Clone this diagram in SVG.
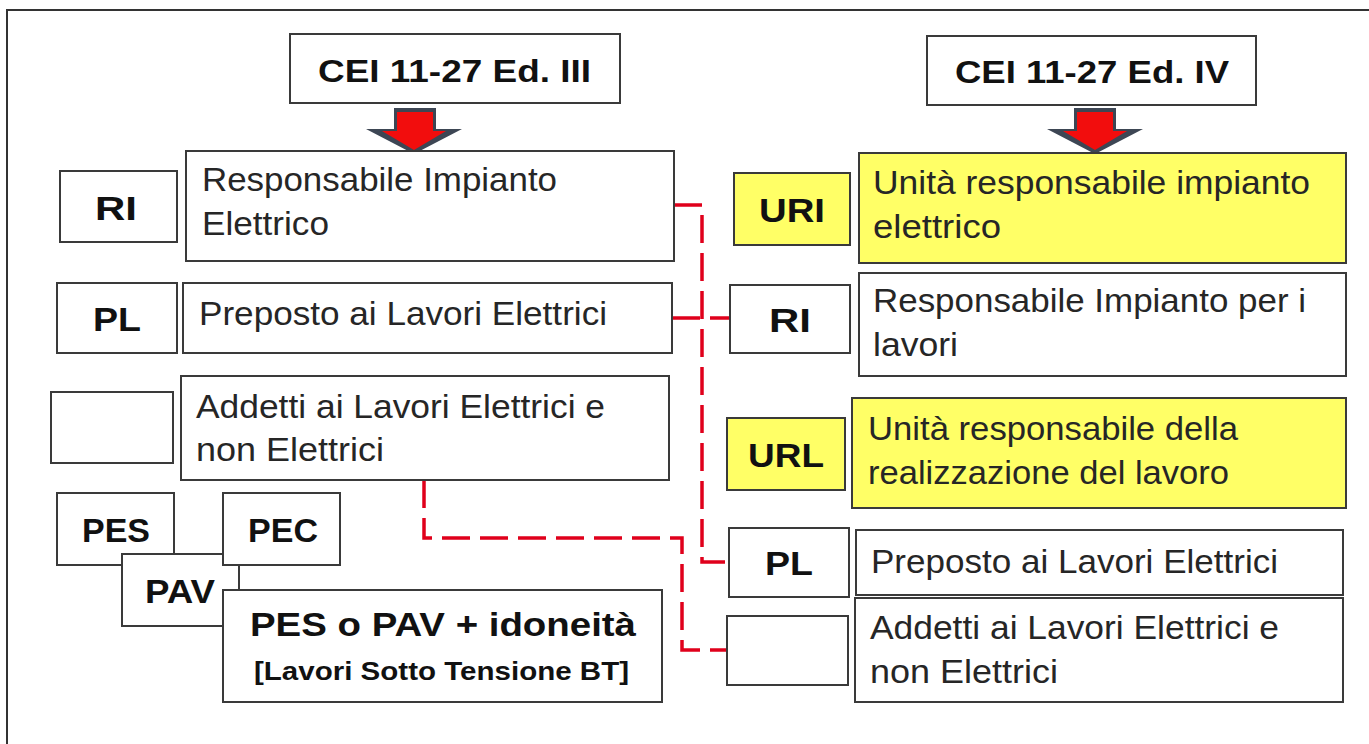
<svg xmlns="http://www.w3.org/2000/svg" width="1369" height="744" viewBox="0 0 1369 744">
<style>
.box{fill:#ffffff;stroke:#3a3a3a;stroke-width:2}
.ybox{fill:#ffff66;stroke:#3a3a3a;stroke-width:2}
.t{font-family:"Liberation Sans",Arial,sans-serif;font-size:33px;fill:#262626}
.lbl{font-family:"Liberation Sans",Arial,sans-serif;font-size:33px;font-weight:bold;fill:#111;text-anchor:middle}
.title{font-family:"Liberation Sans",Arial,sans-serif;font-size:32px;font-weight:bold;fill:#111}
.con{fill:none;stroke:#e0001b;stroke-width:3.5;stroke-dasharray:28 10}
.ad{fill:#3d4654}
.ar{fill:#f20d0d}
</style>
<rect x="0" y="0" width="1369" height="744" fill="#ffffff"/>
<path d="M7,744 V10 H1369" fill="none" stroke="#333" stroke-width="2"/>

<g id="title-ed3">
<rect class="box" x="290" y="34" width="330" height="69"/>
<text class="title" x="318" y="82" textLength="273" lengthAdjust="spacingAndGlyphs">CEI 11-27  Ed. III</text>
</g>
<g id="arrow-ed3">
<polygon class="ad" points="394,108 436,108 436,129 462,129 414,154 366,129 394,129"/>
<polygon class="ar" points="397,112 433,112 433,131 446,131 414,150 382,131 397,131"/>
</g>

<g id="title-ed4">
<rect class="box" x="927" y="36" width="329" height="69"/>
<text class="title" x="955" y="83" textLength="274" lengthAdjust="spacingAndGlyphs">CEI 11-27  Ed. IV</text>
</g>
<g id="arrow-ed4">
<polygon class="ad" points="1074,108 1116,108 1116,129 1143,129 1095,154 1047,129 1074,129"/>
<polygon class="ar" points="1077,112 1113,112 1113,131 1127,131 1095,150 1063,131 1077,131"/>
</g>

<g id="connectors">
<path class="con" d="M674,205 H702 V562 H730"/>
<path class="con" d="M424,480 V538 H682 V650 H728"/>
<path class="con" d="M672,318 H730"/>
</g>

<g id="l-ri">
<rect class="box" x="60" y="171" width="117" height="71"/>
<text class="lbl" x="116" y="220" textLength="42" lengthAdjust="spacingAndGlyphs">RI</text>
</g>
<g id="l-ri-desc">
<rect class="box" x="186" y="151" width="488" height="110"/>
<text class="t" x="202" y="191" textLength="355" lengthAdjust="spacingAndGlyphs">Responsabile Impianto</text>
<text class="t" x="202" y="235" textLength="127" lengthAdjust="spacingAndGlyphs">Elettrico</text>
</g>
<g id="l-pl">
<rect class="box" x="57" y="283" width="120" height="70"/>
<text class="lbl" x="117" y="331" textLength="48" lengthAdjust="spacingAndGlyphs">PL</text>
</g>
<g id="l-pl-desc">
<rect class="box" x="183" y="283" width="489" height="70"/>
<text class="t" x="199" y="325" textLength="408" lengthAdjust="spacingAndGlyphs">Preposto ai Lavori Elettrici</text>
</g>
<g id="l-empty">
<rect class="box" x="51" y="392" width="122" height="71"/>
</g>
<g id="l-addetti">
<rect class="box" x="181" y="376" width="488" height="104"/>
<text class="t" x="196" y="418" textLength="409" lengthAdjust="spacingAndGlyphs">Addetti ai Lavori Elettrici e</text>
<text class="t" x="196" y="461" textLength="188" lengthAdjust="spacingAndGlyphs">non Elettrici</text>
</g>
<g id="l-pes">
<rect class="box" x="57" y="493" width="117" height="72"/>
<text class="lbl" x="116" y="542" textLength="68" lengthAdjust="spacingAndGlyphs">PES</text>
</g>
<g id="l-pav">
<rect class="box" x="122" y="554" width="117" height="72"/>
<text class="lbl" x="180" y="603" textLength="70" lengthAdjust="spacingAndGlyphs">PAV</text>
</g>
<g id="l-pec">
<rect class="box" x="223" y="493" width="117" height="72"/>
<text class="lbl" x="283" y="542" textLength="70" lengthAdjust="spacingAndGlyphs">PEC</text>
</g>
<g id="l-pes-pav">
<rect class="box" x="223" y="590" width="439" height="112"/>
<text class="title" style="font-size:34px" x="250" y="636" textLength="386" lengthAdjust="spacingAndGlyphs">PES o PAV + idoneità</text>
<text class="title" style="font-size:26px" x="254" y="680" textLength="375" lengthAdjust="spacingAndGlyphs">[Lavori Sotto Tensione BT]</text>
</g>

<g id="r-uri">
<rect class="ybox" x="734" y="173" width="116" height="72"/>
<text class="lbl" x="792" y="222" textLength="66" lengthAdjust="spacingAndGlyphs">URI</text>
</g>
<g id="r-uri-desc">
<rect class="ybox" x="859" y="153" width="487" height="110"/>
<text class="t" x="873" y="194" textLength="437" lengthAdjust="spacingAndGlyphs">Unità responsabile impianto</text>
<text class="t" x="873" y="238" textLength="128" lengthAdjust="spacingAndGlyphs">elettrico</text>
</g>
<g id="r-ri">
<rect class="box" x="730" y="285" width="120" height="68"/>
<text class="lbl" x="790" y="332" textLength="42" lengthAdjust="spacingAndGlyphs">RI</text>
</g>
<g id="r-ri-desc">
<rect class="box" x="859" y="273" width="487" height="103"/>
<text class="t" x="873" y="312" textLength="433" lengthAdjust="spacingAndGlyphs">Responsabile Impianto per i</text>
<text class="t" x="873" y="356" textLength="85" lengthAdjust="spacingAndGlyphs">lavori</text>
</g>
<g id="r-url">
<rect class="ybox" x="727" y="418" width="118" height="72"/>
<text class="lbl" x="786" y="467" textLength="76" lengthAdjust="spacingAndGlyphs">URL</text>
</g>
<g id="r-url-desc">
<rect class="ybox" x="852" y="398" width="494" height="110"/>
<text class="t" x="868" y="440" textLength="370" lengthAdjust="spacingAndGlyphs">Unità responsabile della</text>
<text class="t" x="868" y="484" textLength="361" lengthAdjust="spacingAndGlyphs">realizzazione del lavoro</text>
</g>
<g id="r-pl">
<rect class="box" x="729" y="528" width="120" height="69"/>
<text class="lbl" x="789" y="575" textLength="48" lengthAdjust="spacingAndGlyphs">PL</text>
</g>
<g id="r-pl-desc">
<rect class="box" x="856" y="530" width="487" height="65"/>
<text class="t" x="871" y="573" textLength="407" lengthAdjust="spacingAndGlyphs">Preposto ai Lavori Elettrici</text>
</g>
<g id="r-empty">
<rect class="box" x="727" y="616" width="121" height="69"/>
</g>
<g id="r-addetti">
<rect class="box" x="855" y="598" width="488" height="104"/>
<text class="t" x="870" y="639" textLength="409" lengthAdjust="spacingAndGlyphs">Addetti ai Lavori Elettrici e</text>
<text class="t" x="870" y="683" textLength="188" lengthAdjust="spacingAndGlyphs">non Elettrici</text>
</g>
</svg>
